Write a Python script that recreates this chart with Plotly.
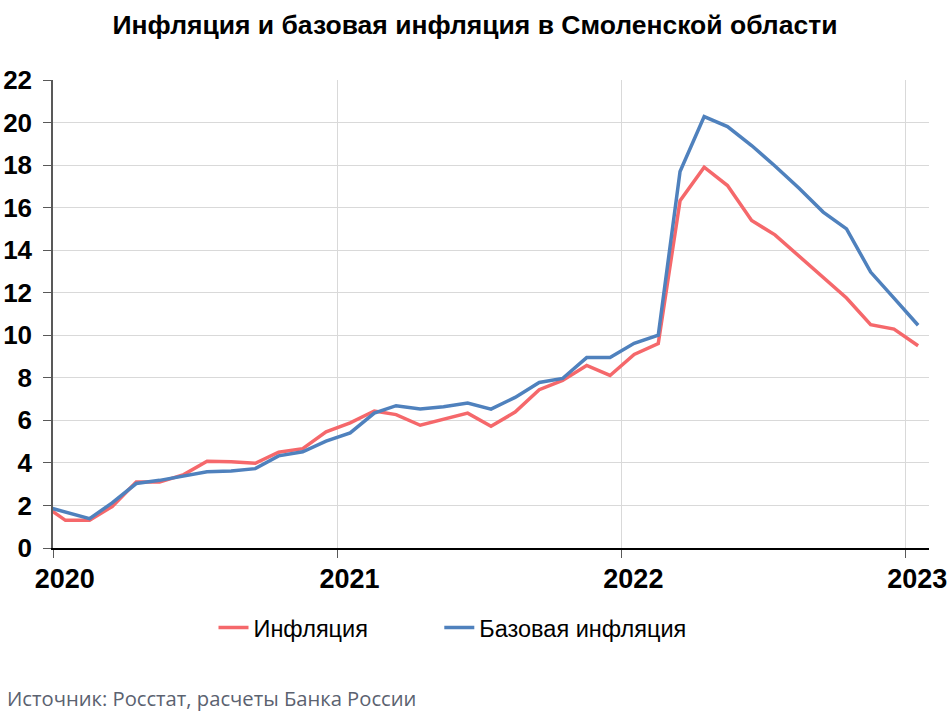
import pandas as pd
import plotly.graph_objects as go

# Monthly observations, Dec 2019 .. Jan 2023 (year-on-year, %)
months = pd.date_range("2019-12-01", periods=38, freq="MS") + pd.Timedelta(days=16)

inflation = [2.1,
             1.3, 1.3, 1.95, 3.1, 3.1, 3.45, 4.08, 4.05, 3.98, 4.5, 4.67, 5.46,
             5.88, 6.44, 6.27, 5.77, 6.03, 6.34, 5.72, 6.39, 7.44, 7.88, 8.58, 8.11,
             9.1, 9.61, 16.33, 17.9, 17.04, 15.4, 14.72, 13.71, 12.69, 11.75, 10.5, 10.29,
             9.51]
core_inflation = [2.0,
                  1.7, 1.38, 2.12, 3.03, 3.18, 3.37, 3.58, 3.62, 3.73, 4.33, 4.52, 5.02,
                  5.41, 6.34, 6.69, 6.53, 6.64, 6.81, 6.53, 7.08, 7.78, 7.97, 8.95, 8.95,
                  9.62, 10.0, 17.7, 20.28, 19.81, 18.92, 17.96, 16.91, 15.79, 15.0, 12.97, 11.75,
                  10.47]

year_starts = ["2020-01-01", "2021-01-01", "2022-01-01", "2023-01-01"]
year_label_pos = ["2020-01-16", "2021-01-16", "2022-01-16", "2023-01-16"]
year_labels = ["2020", "2021", "2022", "2023"]

series_names = ["Инфляция", "Базовая инфляция"]
colors = ["#F5686B", "#4F81BD"]
legend_ids = ["legend", "legend2"]

fig = go.Figure()
for name, vals, col, lg in zip(series_names, [inflation, core_inflation], colors, legend_ids):
    fig.add_trace(go.Scatter(x=months, y=vals, mode="lines", name=name, legend=lg,
                             line=dict(color=col, width=3.5)))

W, H = 950, 712
L, R, T, B = 53, 21, 80, 164
PW, PH = W - L - R, H - T - B

def px_x(x):
    return (x - L) / PW

def px_y(y):
    return (H - B - y) / PH

legend_font = dict(family="Liberation Sans, Arial", size=23.5, color="black")

fig.update_layout(
    width=W, height=H,
    margin=dict(l=L, r=R, t=T, b=B, autoexpand=False),
    plot_bgcolor="white", paper_bgcolor="white",
    title=dict(text="<b>Инфляция и базовая инфляция в Смоленской области</b>",
               x=0.5, xref="container", xanchor="center",
               y=1 - 25 / H, yref="container", yanchor="middle",
               font=dict(family="Liberation Sans, Arial", size=26.5, color="black")),
    font=dict(family="Liberation Sans, Arial", color="black"),
    showlegend=True,
    legend=dict(orientation="h", x=px_x(213.5), xanchor="left", y=px_y(627.7), yanchor="middle",
                font=legend_font, bgcolor="rgba(0,0,0,0)"),
    legend2=dict(orientation="h", x=px_x(439.3), xanchor="left", y=px_y(627.7), yanchor="middle",
                 font=legend_font, bgcolor="rgba(0,0,0,0)"),
)

fig.update_xaxes(
    type="date", range=["2020-01-01", "2023-01-31"], automargin=False,
    tickmode="array", tickvals=year_label_pos, ticktext=year_labels,
    ticks="", showgrid=False, ticklabelstandoff=6,
    tickfont=dict(size=27, family="Liberation Sans, Arial", color="black", weight="bold"),
    showline=True, linecolor="black", linewidth=1.5,
    minor=dict(tickmode="array", tickvals=year_starts, ticks="outside", ticklen=8,
               tickcolor="#595959", tickwidth=1, showgrid=True, gridcolor="#D9D9D9", gridwidth=1),
    zeroline=False,
)
fig.update_yaxes(
    range=[0, 22], dtick=2, tick0=0, automargin=False,
    ticks="outside", ticklen=8, tickcolor="#595959", ticklabelstandoff=6,
    tickfont=dict(size=26, family="Liberation Sans, Arial", color="black", weight="bold"),
    showgrid=True, gridcolor="#D9D9D9", gridwidth=1,
    showline=True, linecolor="#595959", linewidth=1.5,
    zeroline=False,
)

fig.add_annotation(text="Источник: Росстат, расчеты Банка России",
                   xref="paper", yref="paper", x=px_x(5), y=px_y(697.7),
                   xanchor="left", yanchor="middle", showarrow=False,
                   font=dict(family="Open Sans, Noto Sans", size=20.2, color="#5B6270"))

fig.write_html("out.html", config={"displayModeBar": False},
               post_script="document.body.style.margin='0';document.body.style.overflow='hidden';")
